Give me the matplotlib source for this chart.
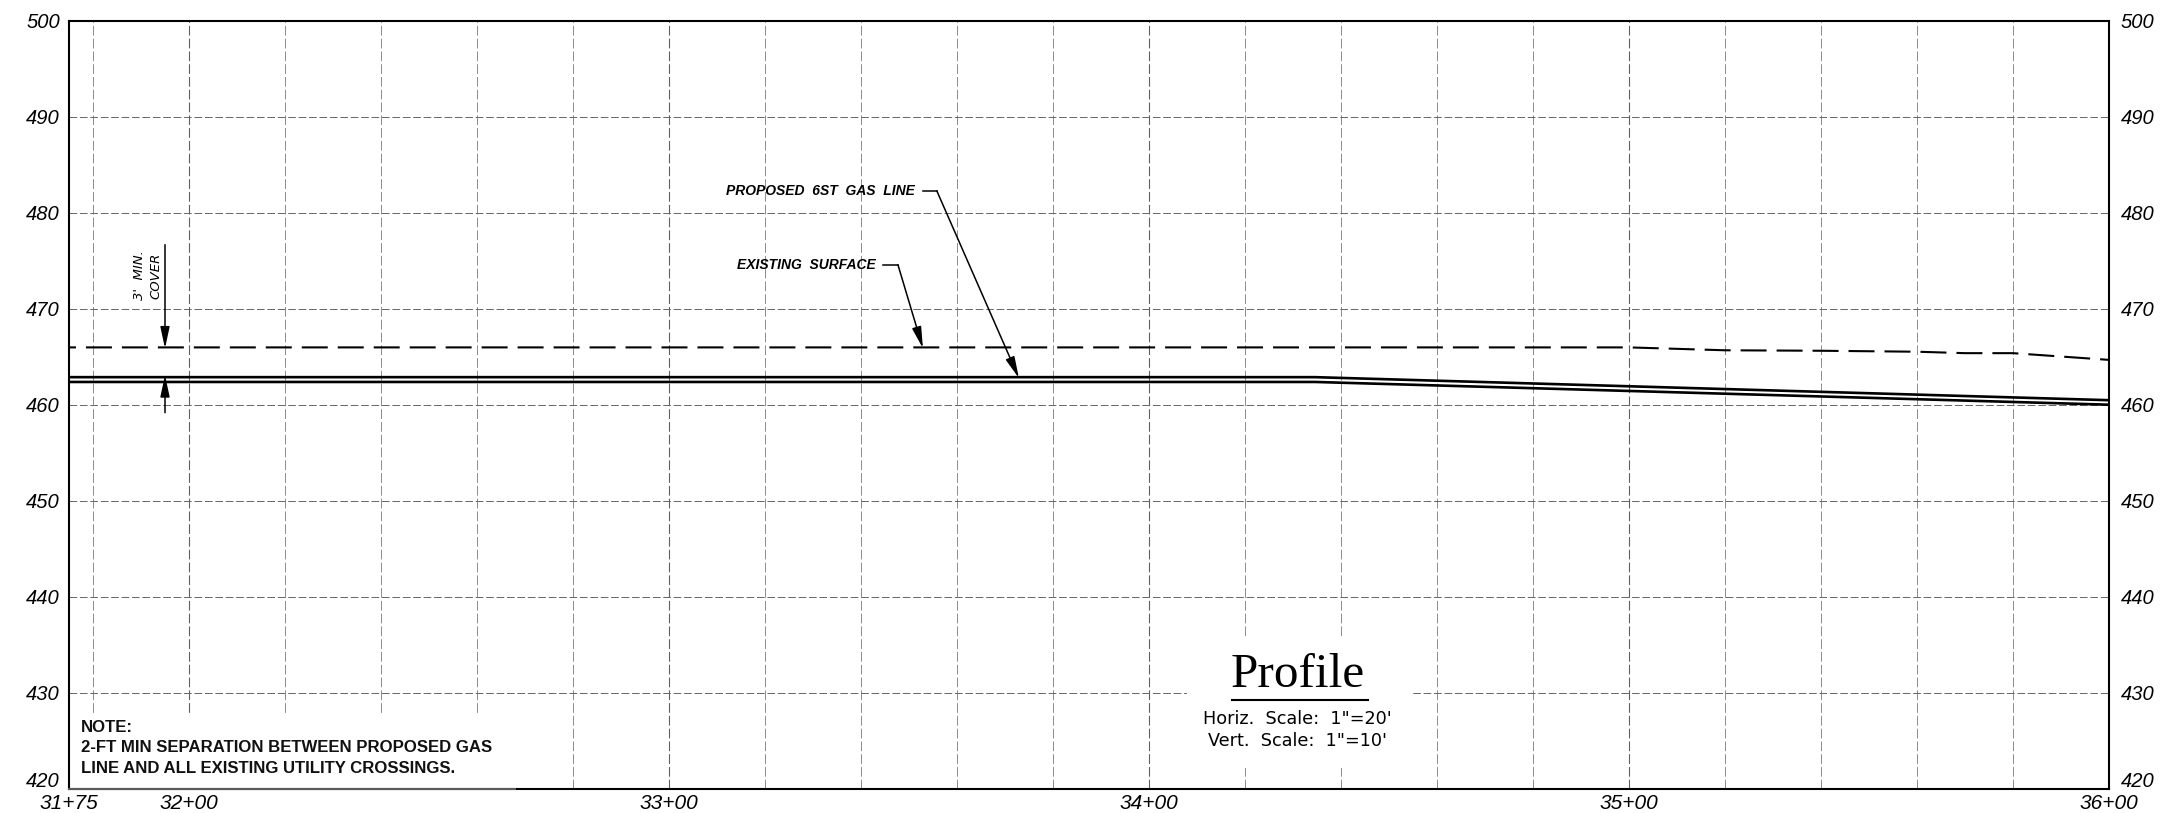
"""Gas line profile sheet, redrawn with matplotlib."""

import matplotlib
matplotlib.use("Agg")

import matplotlib.pyplot as plt
from matplotlib.patches import Rectangle
from matplotlib.transforms import ScaledTranslation

plt.rcParams["lines.scale_dashes"] = False

# stations are plain feet, 3175 = 31+75
STATION_TICKS = [3175, 3200, 3300, 3400, 3500, 3600]
STATION_LABELS = ["31+75", "32+00", "33+00", "34+00", "35+00", "36+00"]
ELEV_TICKS = [420, 430, 440, 450, 460, 470, 480, 490, 500]

GRID_MAJOR = [3200, 3300, 3400, 3500]
GRID_MINOR = [3180, 3220, 3240, 3260, 3280, 3320, 3340, 3360, 3380,
              3420, 3440, 3460, 3480, 3520, 3540, 3560, 3580]

SURFACE_X = [3175, 3500, 3520, 3540, 3560, 3570, 3580, 3600]
SURFACE_Y = [466.0, 466.0, 465.7, 465.65, 465.55, 465.4, 465.4, 464.7]

PIPE_X = [3175, 3434.6, 3600]
PIPE_TOP = [462.9, 462.9, 460.5]
PIPE_BOTTOM = [462.4, 462.4, 460.03]

LEADER_GAS_X = [3352.9, 3355.8, 3372.9]
LEADER_GAS_Y = [482.3, 482.3, 462.8]
LEADER_SURF_X = [3344.6, 3347.7, 3352.9]
LEADER_SURF_Y = [474.6, 474.6, 465.9]

COVER_X = 3195
COVER_TOP = [476.7, 465.9]
COVER_BOTTOM = [459.2, 463.1]

W, H = 2171, 813
LEFT, RIGHT, TOP, BOTTOM = 69, 2109, 21, 789

fig = plt.figure(figsize=(W / 100, H / 100), dpi=100, facecolor="white")
ax = fig.add_axes([LEFT / W, 1 - BOTTOM / H, (RIGHT - LEFT) / W, (BOTTOM - TOP) / H])
ax.set_xlim(3175, 3600)
ax.set_ylim(420, 500)


def nudge(label, dx_px, dy_px):
    label.set_transform(label.get_transform()
                        + ScaledTranslation(dx_px / 100, dy_px / 100, fig.dpi_scale_trans))


# ── Grid ──────────────────────────────────────────────────────────────────
for x in GRID_MINOR:
    ax.axvline(x, color="#8c8c8c", lw=0.7, ls=(0, (7, 2.2)), zorder=1)
for x in GRID_MAJOR:
    ax.axvline(x, color="#606060", lw=0.8, ls=(0, (7, 2.2)), zorder=1)
for y in ELEV_TICKS[1:-1]:
    ax.axhline(y, color="#666666", lw=0.7, ls=(0, (5.5, 2)), zorder=1)

# white boxes behind the note and the title block
ax.add_patch(Rectangle((3175, 420), 92.9, 7.8, fc="white", ec="none", zorder=2))
ax.add_patch(Rectangle((3407.9, 422.2), 46.7, 13.6, fc="white", ec="none", zorder=2))

# ── Profile lines ─────────────────────────────────────────────────────────
ax.plot(SURFACE_X, SURFACE_Y, color="black", lw=1.5, ls=(13.7, (18.7, 7.2)), zorder=3)
ax.plot(PIPE_X, PIPE_TOP, color="black", lw=1.9, zorder=3)
ax.plot(PIPE_X, PIPE_BOTTOM, color="black", lw=1.9, zorder=3)

# ── Leaders and callouts ──────────────────────────────────────────────────
ARROW = dict(arrowstyle="-|>,head_length=1.3,head_width=0.28", color="black", lw=1.1,
             shrinkA=0, shrinkB=0, mutation_scale=10)

for xs, ys in [(LEADER_GAS_X, LEADER_GAS_Y), (LEADER_SURF_X, LEADER_SURF_Y)]:
    ax.plot(xs[:2], ys[:2], color="black", lw=1.1, zorder=4)
    ax.annotate("", xy=(xs[2], ys[2]), xytext=(xs[1], ys[1]), arrowprops=ARROW, zorder=4)

ax.annotate("", xy=(COVER_X, COVER_TOP[1]), xytext=(COVER_X, COVER_TOP[0]), arrowprops=ARROW, zorder=4)
ax.annotate("", xy=(COVER_X, COVER_BOTTOM[1]), xytext=(COVER_X, COVER_BOTTOM[0]), arrowprops=ARROW, zorder=4)

CALLOUT = dict(family="Liberation Sans", style="italic", fontweight="bold", color="black",
               ha="right", va="center", zorder=5)
ax.text(3351.3, 482.3, "PROPOSED  6ST  GAS  LINE", fontsize=10, **CALLOUT)
ax.text(3343.0, 474.6, "EXISTING  SURFACE", fontsize=10, **CALLOUT)

ax.text(3189.6, 473.5, "3'  MIN.", rotation=90, ha="center", va="center", fontsize=9.5,
        family="DejaVu Sans", style="italic", zorder=5)
ax.text(3193.1, 473.5, "COVER", rotation=90, ha="center", va="center", fontsize=9.5,
        family="DejaVu Sans", style="italic", zorder=5)

# ── Note ──────────────────────────────────────────────────────────────────
NOTE = dict(family="Liberation Sans", fontweight="bold", fontsize=12.1, color="#111111",
            ha="left", va="center", zorder=5)
ax.text(3177.4, 426.4, "NOTE:", **NOTE)
ax.text(3177.4, 424.3, "2-FT MIN SEPARATION BETWEEN PROPOSED GAS", **NOTE)
ax.text(3177.4, 422.1, "LINE AND ALL EXISTING UTILITY CROSSINGS.", **NOTE)

# ── Title block ───────────────────────────────────────────────────────────
ax.text(3431.0, 430.6, "Profile", family="Liberation Serif", fontsize=35.5,
        ha="center", va="baseline", zorder=5)
ax.plot([3417.3, 3445.6], [429.3, 429.3], color="black", lw=1.5, zorder=5)
ax.text(3431.0, 427.3, "Horiz.  Scale:  1\"=20'", family="DejaVu Sans", fontsize=12.7,
        ha="center", va="center", zorder=5)
ax.text(3431.0, 425.0, "Vert.  Scale:  1\"=10'", family="DejaVu Sans", fontsize=12.7,
        ha="center", va="center", zorder=5)

# ── Axes ──────────────────────────────────────────────────────────────────
for spine in ax.spines.values():
    spine.set_linewidth(1.5)
    spine.set_color("black")
    spine.set_zorder(6)

ax.plot([3175, 3267.9], [420, 420], color="#5a5a5a", lw=1.5, clip_on=False, zorder=7)

ax.set_xticks(STATION_TICKS)
ax.set_xticklabels(STATION_LABELS, family="Liberation Sans", style="italic", fontsize=15)
ax.set_yticks(ELEV_TICKS)
ax.set_yticklabels(ELEV_TICKS, family="Liberation Sans", style="italic", fontsize=14.5)
ax.tick_params(axis="x", length=0, pad=3.5)
ax.tick_params(axis="y", length=0, pad=6.5, labelleft=True, labelright=True)

for elev, tick in zip(ELEV_TICKS, ax.yaxis.get_major_ticks()):
    tick.label2.set_family("Liberation Sans")
    tick.label2.set_style("italic")
    tick.label2.set_fontsize(14.5)
    # the 420 labels sit above the frame corner
    dy = 10 if elev == 420 else 0
    nudge(tick.label1, 0, dy)
    nudge(tick.label2, 3, dy)

fig.savefig("out.png", dpi=100, facecolor="white")
